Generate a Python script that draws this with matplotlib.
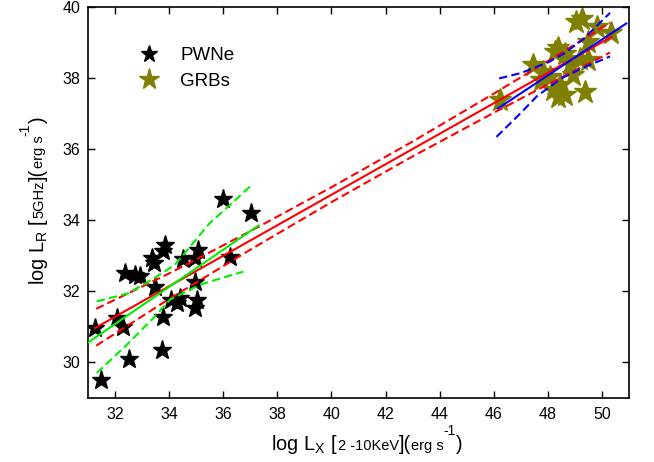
import matplotlib
matplotlib.use('Agg')
import matplotlib.pyplot as plt

plt.rcParams['font.family'] = ['Liberation Sans', 'DejaVu Sans']

# PWNe points (log Lx, log Lr)
pwn_x = [31.26, 31.48, 32.06, 32.30, 32.53, 32.37, 32.74, 32.92, 33.35, 33.44,
         33.85, 33.78, 33.48, 33.72, 33.78, 34.06, 34.28, 34.40, 34.50, 34.95,
         35.08, 34.95, 35.02, 34.95, 36.25, 35.98, 37.01]
pwn_y = [30.96, 29.50, 31.24, 31.00, 30.08, 32.50, 32.46, 32.42, 32.93, 32.79,
         33.31, 33.12, 32.13, 30.35, 31.28, 31.75, 31.66, 31.80, 32.90, 32.93,
         33.16, 32.27, 31.75, 31.52, 32.96, 34.59, 34.21]

# GRB points
grb_x = [46.23, 47.45, 47.83, 48.07, 48.25, 48.38, 48.62, 48.44, 48.20, 48.63,
         48.38, 48.93, 49.18, 49.49, 49.36, 49.49, 49.05, 49.25, 49.80, 50.35,
         48.80, 47.76]
grb_y = [37.39, 38.37, 38.19, 38.05, 38.75, 38.85, 38.70, 37.81, 37.67, 37.53,
         37.48, 38.09, 38.56, 38.52, 37.62, 39.03, 39.60, 39.68, 39.45, 39.27,
         38.42, 37.95]

# all-sample fit (red) and its confidence band
all_fit_x = [31.26, 50.35]
all_fit_y = [30.96, 39.17]
all_band_x = [31.3, 34.0, 37.0, 40.0, 43.0, 46.0, 48.0, 50.3]
all_band_up = [31.50, 32.50, 33.69, 34.93, 36.22, 37.57, 38.49, 39.57]
all_band_lo = [30.46, 31.78, 33.17, 34.51, 35.80, 37.03, 37.83, 38.73]

# PWNe fit (green)
pwn_fit_x = [31.0, 37.3]
pwn_fit_y = [30.55, 33.85]
pwn_up_x = [31.32, 32.49, 33.35, 34.21, 35.50, 36.25, 36.99]
pwn_up_y = [31.71, 31.94, 32.32, 32.74, 33.92, 34.43, 34.95]
pwn_lo_x = [31.32, 32.37, 33.35, 34.03, 35.14, 35.94, 36.74]
pwn_lo_y = [29.69, 30.44, 31.19, 31.76, 32.18, 32.37, 32.55]

# GRB fit (blue)
grb_fit_x = [46.15, 50.9]
grb_fit_y = [37.15, 39.55]
grb_up_x = [46.2, 47.0, 48.0, 48.6, 49.3, 50.3]
grb_up_y = [38.00, 38.15, 38.45, 38.70, 39.10, 39.85]
grb_lo_x = [46.1, 46.9, 47.6, 48.5, 49.3, 50.3]
grb_lo_y = [36.35, 36.95, 37.50, 38.00, 38.30, 38.62]

xticks = [32, 34, 36, 38, 40, 42, 44, 46, 48, 50]
yticks = [30, 32, 34, 36, 38, 40]

BIG = 14.4
SMALL = 10.5
SUP = 10
RISE = 10.5

# label pieces: (text, fontsize, rise in points above the baseline)
xlabel_parts = [('log L$_\\mathregular{X}$ [', BIG, 0), ('2 -10KeV', SMALL, 0),
                ('](', BIG, 0), ('erg s', SMALL, 0), ('-1', SUP, RISE),
                (')', BIG, 0)]
ylabel_parts = [('log L$_\\mathregular{R}$ [', BIG, 0), ('5GHz', SMALL, 0),
                ('](', BIG, 0), ('erg s', SMALL, 0), ('-1', SUP, RISE),
                (')', BIG, 0)]


def compose(fig, parts, base, centre, rotation=0):
    # lay out pieces of mixed size along a common baseline (pixel units)
    texts = [fig.text(0, 0, s, fontsize=fs, ha='left', va='baseline',
                      rotation=rotation, rotation_mode='anchor')
             for s, fs, _ in parts]
    fig.canvas.draw()
    r = fig.canvas.get_renderer()
    sizes = []
    for t in texts:
        bb = t.get_window_extent(r)
        sizes.append(bb.width if rotation == 0 else bb.height)
    W, H = fig.bbox.width, fig.bbox.height
    cur = centre - sum(sizes) / 2
    for t, w, (_, _, rise) in zip(texts, sizes, parts):
        rp = rise * fig.dpi / 72
        if rotation == 0:
            t.set_position((cur / W, (base + rp) / H))
        else:
            t.set_position(((base - rp) / W, cur / H))
        cur += w
    return texts


fig = plt.figure(figsize=(6.54, 4.62), dpi=100)
ax = fig.add_axes([0.1346, 0.1396, 0.8272, 0.8442])

ax.plot(pwn_x, pwn_y, '*', color='black', markersize=14, linestyle='none',
        label='PWNe', zorder=2)
ax.plot(grb_x, grb_y, '*', color='#808000', markersize=17, linestyle='none',
        label='GRBs', zorder=2)

dash = (4, 2)
ax.plot(all_fit_x, all_fit_y, color='red', lw=1.5, zorder=3)
ax.plot(all_band_x, all_band_up, color='red', lw=1.5, dashes=dash, zorder=3)
ax.plot(all_band_x, all_band_lo, color='red', lw=1.5, dashes=dash, zorder=3)

ax.plot(pwn_fit_x, pwn_fit_y, color='#00ee00', lw=1.5, zorder=4)
ax.plot(pwn_up_x, pwn_up_y, color='#00ee00', lw=1.5, dashes=dash, zorder=4)
ax.plot(pwn_lo_x, pwn_lo_y, color='#00ee00', lw=1.5, dashes=dash, zorder=4)

ax.plot(grb_fit_x, grb_fit_y, color='blue', lw=1.5, zorder=4)
ax.plot(grb_up_x, grb_up_y, color='blue', lw=1.5, dashes=dash, zorder=4)
ax.plot(grb_lo_x, grb_lo_y, color='blue', lw=1.5, dashes=dash, zorder=4)

ax.set_xlim(31, 51)
ax.set_ylim(29, 40)
ax.set_xticks(xticks)
ax.set_yticks(yticks)
ax.tick_params(direction='in', top=True, right=True, length=5, width=1,
               labelsize=11.5)
ax.tick_params(axis='x', pad=7)
ax.tick_params(axis='y', pad=5.5)
for sp in ax.spines.values():
    sp.set_linewidth(1.2)

ax.legend(loc='upper left', bbox_to_anchor=(0.06, 0.942), frameon=False,
          fontsize=13.5, handlelength=1.2, handletextpad=1.1,
          labelspacing=0.45, markerscale=0.9)

# baseline / centre positions in pixels from the bottom-left corner
compose(fig, xlabel_parts, base=462 - 450, centre=367)
compose(fig, ylabel_parts, base=43.5, centre=462 - 201, rotation=90)

fig.savefig('out.png', dpi=100)
